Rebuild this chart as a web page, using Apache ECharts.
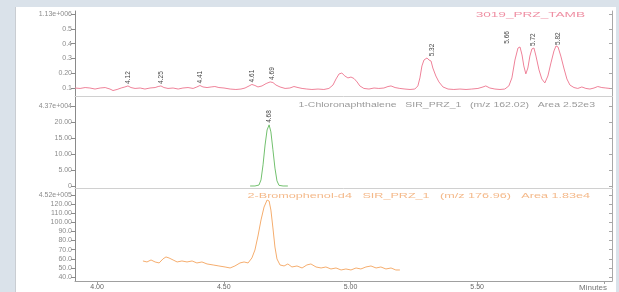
<!DOCTYPE html>
<html><head><meta charset="utf-8">
<script src="https://cdn.jsdelivr.net/npm/echarts@6/dist/echarts.min.js"></script>
<style>
html,body{margin:0;padding:0;background:#dae2ea;overflow:hidden;}
#frame{position:absolute;left:15px;top:7px;width:600px;height:285px;background:#fff;border-left:1px solid #c9cdd2;}
#chart{position:absolute;left:0;top:0;width:619px;height:292px;}
</style></head><body>
<div id="frame"></div><div id="chart"></div>
<script>
// ---- x axis (minutes) ----
const timeTickValues = [4.0, 4.5, 5.0, 5.5];
const timeTickLabels = ['4.00', '4.50', '5.00', '5.50'];

// ---- panel 1: TIC-like pink trace ----
const ticTimes = [3.913,3.933,3.953,3.972,3.992,4.012,4.032,4.051,4.063,4.079,4.095,4.110,4.122,4.134,4.150,4.170,4.189,4.209,4.229,4.241,4.252,4.264,4.280,4.300,4.320,4.339,4.359,4.379,4.394,4.406,4.418,4.434,4.450,4.465,4.481,4.501,4.525,4.548,4.568,4.584,4.600,4.611,4.623,4.635,4.651,4.667,4.683,4.694,4.706,4.722,4.742,4.761,4.777,4.793,4.809,4.828,4.848,4.872,4.895,4.915,4.931,4.943,4.955,4.966,4.978,4.990,5.002,5.014,5.026,5.037,5.053,5.073,5.093,5.112,5.132,5.148,5.160,5.176,5.195,5.215,5.235,5.254,5.266,5.274,5.282,5.290,5.302,5.310,5.318,5.325,5.337,5.349,5.365,5.385,5.408,5.432,5.456,5.479,5.503,5.523,5.534,5.550,5.570,5.590,5.609,5.625,5.637,5.649,5.661,5.669,5.677,5.684,5.692,5.700,5.708,5.716,5.724,5.732,5.744,5.755,5.767,5.779,5.791,5.803,5.811,5.819,5.830,5.842,5.854,5.866,5.882,5.897,5.913,5.929,5.945,5.961,5.976,5.992,6.008,6.024];
const ticValues = [0.100,0.097,0.103,0.100,0.093,0.100,0.103,0.093,0.083,0.090,0.100,0.107,0.114,0.103,0.097,0.100,0.093,0.100,0.103,0.110,0.114,0.103,0.097,0.100,0.093,0.100,0.103,0.097,0.107,0.117,0.107,0.103,0.107,0.110,0.103,0.100,0.093,0.090,0.093,0.100,0.114,0.124,0.117,0.107,0.114,0.130,0.141,0.137,0.120,0.107,0.097,0.100,0.110,0.103,0.097,0.093,0.090,0.093,0.090,0.097,0.120,0.161,0.195,0.201,0.181,0.168,0.174,0.164,0.141,0.114,0.097,0.093,0.100,0.097,0.100,0.110,0.114,0.103,0.097,0.093,0.090,0.093,0.114,0.168,0.249,0.289,0.303,0.289,0.282,0.235,0.181,0.141,0.107,0.093,0.090,0.093,0.090,0.093,0.097,0.107,0.114,0.100,0.093,0.090,0.093,0.114,0.168,0.289,0.370,0.377,0.323,0.249,0.195,0.235,0.316,0.364,0.370,0.316,0.222,0.161,0.134,0.181,0.269,0.350,0.384,0.377,0.316,0.235,0.161,0.120,0.103,0.097,0.107,0.097,0.093,0.100,0.110,0.103,0.100,0.097];
const ticPeakTimes = [4.122, 4.252, 4.406, 4.611, 4.690, 5.321, 5.620, 5.722, 5.819];
const ticPeakValues = [0.114, 0.114, 0.117, 0.124, 0.141, 0.300, 0.385, 0.370, 0.377];
const ticPeakLabels = ['4.12', '4.25', '4.41', '4.61', '4.69', '5.32', '5.66', '5.72', '5.82'];
const panel1TickValues = [0.1, 0.2, 0.3, 0.4, 0.5, 0.6];
const panel1TickLabels = ['0.1', '0.20', '0.3', '0.4', '0.5', '1.13e+006'];
const panel1Title = '3019_PRZ_TAMB';

// ---- panel 2: green SIR trace ----
const greenTimes = [4.604,4.623,4.639,4.647,4.655,4.663,4.671,4.679,4.686,4.694,4.702,4.710,4.718,4.734,4.753];
const greenValues = [0,0,0.3,1.9,6.6,12.8,17.5,19.1,16.9,11.3,5.6,1.6,0.2,0,0];
const greenPeakTimes = [4.680];
const greenPeakValues = [19.1];
const greenPeakLabels = ['4.68'];
const panel2TickValues = [0, 5, 10, 15, 20, 25];
const panel2TickLabels = ['0', '5.00', '10.00', '15.00', '20.00', '4.37e+004'];
const panel2Title = '1-Chloronaphthalene   SIR_PRZ_1   (m/z 162.02)   Area 2.52e3';

// ---- panel 3: orange SIR trace ----
const orangeTimes = [4.181,4.197,4.213,4.229,4.245,4.260,4.272,4.284,4.300,4.316,4.335,4.355,4.375,4.394,4.414,4.434,4.458,4.481,4.505,4.525,4.544,4.564,4.580,4.596,4.611,4.623,4.635,4.647,4.659,4.671,4.679,4.686,4.694,4.702,4.710,4.722,4.738,4.753,4.769,4.789,4.809,4.828,4.844,4.864,4.884,4.903,4.923,4.943,4.963,4.982,5.002,5.022,5.041,5.061,5.081,5.101,5.120,5.140,5.160,5.179,5.195];
const orangeValues = [17.6,16.5,18.7,16.5,15.4,19.8,22.0,20.9,18.7,16.5,17.6,16.5,17.6,15.4,16.5,14.3,13.2,12.1,11.0,9.9,12.1,15.4,16.5,15.4,20.9,29.6,45.0,62.6,76.8,84.5,83.4,73.5,53.8,32.9,19.8,13.2,12.1,14.3,11.0,12.1,9.9,13.2,14.3,11.0,9.9,11.0,8.8,9.9,7.7,8.8,7.7,9.9,8.8,11.0,12.1,9.9,11.0,8.8,9.9,7.7,7.7];
const panel3TickValues = [0, 10, 20, 30, 40, 50, 60, 70, 80, 90];
const panel3TickLabels = ['40.0', '50.0', '60.0', '70.0', '80.0', '90.0', '100.00', '110.00', '120.00', '4.52e+005'];
const panel3Title = '2-Bromophenol-d4   SIR_PRZ_1   (m/z 176.96)   Area 1.83e4';

const zip = (a, b) => a.map((v, i) => [v, b[i]]);
const labelFrom = (vals, labs) => (v) => { const i = vals.findIndex(x => Math.abs(x - v) < 1e-6); return i >= 0 ? labs[i] : ''; };

const axisGray = '#8a8a8a';
const textGray = '#8c8c8c';
const font = 'Liberation Sans';

const grids = [
  {left: 75, right: 7, top: 11, height: 85},
  {left: 75, right: 7, top: 97, height: 91},
  {left: 75, right: 7, top: 189, height: 92}
];
const yRanges = [[0.046, 0.62], [-0.625, 27.8], [-4.4, 96.6]];
const yTicks = [[panel1TickValues, panel1TickLabels], [panel2TickValues, panel2TickLabels], [panel3TickValues, panel3TickLabels]];

const xAxes = grids.map((g, i) => ({
  type: 'value', gridIndex: i, min: 3.913, max: 6.032,
  axisLine: {show: true, onZero: false, lineStyle: {color: i === 2 ? '#a0a0a0' : '#d0d0d0', width: 1}},
  axisTick: {show: i === 2, length: 3, customValues: [4.0, 4.5, 5.0, 5.5, 6.0], lineStyle: {color: '#a0a0a0'}},
  axisLabel: {show: i === 2, customValues: timeTickValues, formatter: labelFrom(timeTickValues, timeTickLabels),
    fontSize: 7, color: '#666', fontFamily: font, margin: 3},
  splitLine: {show: false},
  name: i === 2 ? 'Minutes' : '', nameLocation: 'end', nameGap: -5,
  nameTextStyle: {fontSize: 8, color: '#777', fontFamily: font, align: 'right', verticalAlign: 'top', padding: [3, 0, 0, 0]}
}));

const yAxes = [];
grids.forEach((g, i) => {
  const [vals, labs] = yTicks[i];
  yAxes.push({
    type: 'value', gridIndex: i, min: yRanges[i][0], max: yRanges[i][1], position: 'left',
    axisLine: {show: true, onZero: false, lineStyle: {color: axisGray, width: 1}},
    axisTick: {show: true, length: 4, customValues: vals, lineStyle: {color: axisGray}},
    axisLabel: {show: true, customValues: vals, formatter: labelFrom(vals, labs), fontSize: 7, color: textGray, fontFamily: font, margin: 3},
    splitLine: {show: false}
  });
  yAxes.push({
    type: 'value', gridIndex: i, min: yRanges[i][0], max: yRanges[i][1], position: 'right',
    axisLine: {show: true, onZero: false, lineStyle: {color: '#a8a8a8', width: 1}},
    axisTick: {show: true, inside: true, length: 3, customValues: vals, lineStyle: {color: '#a8a8a8'}},
    axisLabel: {show: false},
    splitLine: {show: false}
  });
});

function peakMarks(times, values, labels) {
  return {
    symbol: 'rect', symbolSize: [0.1, 0.1], itemStyle: {color: 'rgba(0,0,0,0)'},
    label: {show: true, position: 'top', distance: 2, rotate: 90, align: 'left', verticalAlign: 'middle',
      fontSize: 6.5, color: '#454545', fontFamily: font, formatter: p => p.name},
    data: times.map((t, i) => ({name: labels[i], coord: [t, values[i]]}))
  };
}

function titleText(text, xRight, yMid, scaleX, size, color) {
  return {type: 'text', x: xRight, y: yMid, scaleX: scaleX, silent: true,
    style: {text: text, fontSize: size, fontFamily: font, fill: color, align: 'right', verticalAlign: 'middle'}};
}

const chart = echarts.init(document.getElementById('chart'), null, {renderer: 'canvas'});
chart.setOption({
  animation: false,
  backgroundColor: 'transparent',
  graphic: [
    titleText(panel1Title, 585, 15, 1.7, 8, '#ef8fa3'),
    titleText(panel2Title, 595, 105, 1.5, 7, '#9a9a9a'),
    titleText(panel3Title, 590, 196, 1.8, 7, '#f4b98a')
  ],
  grid: grids,
  xAxis: xAxes,
  yAxis: yAxes,
  series: [
    {type: 'line', xAxisIndex: 0, yAxisIndex: 0, data: zip(ticTimes, ticValues), showSymbol: false,
      lineStyle: {color: '#ef8299', width: 1}, markPoint: peakMarks(ticPeakTimes, ticPeakValues, ticPeakLabels)},
    {type: 'line', xAxisIndex: 1, yAxisIndex: 2, data: zip(greenTimes, greenValues), showSymbol: false,
      lineStyle: {color: '#72c06e', width: 1}, markPoint: peakMarks(greenPeakTimes, greenPeakValues, greenPeakLabels)},
    {type: 'line', xAxisIndex: 2, yAxisIndex: 4, data: zip(orangeTimes, orangeValues), showSymbol: false,
      lineStyle: {color: '#f5ad6e', width: 1}}
  ]
});
</script>
</body></html>
